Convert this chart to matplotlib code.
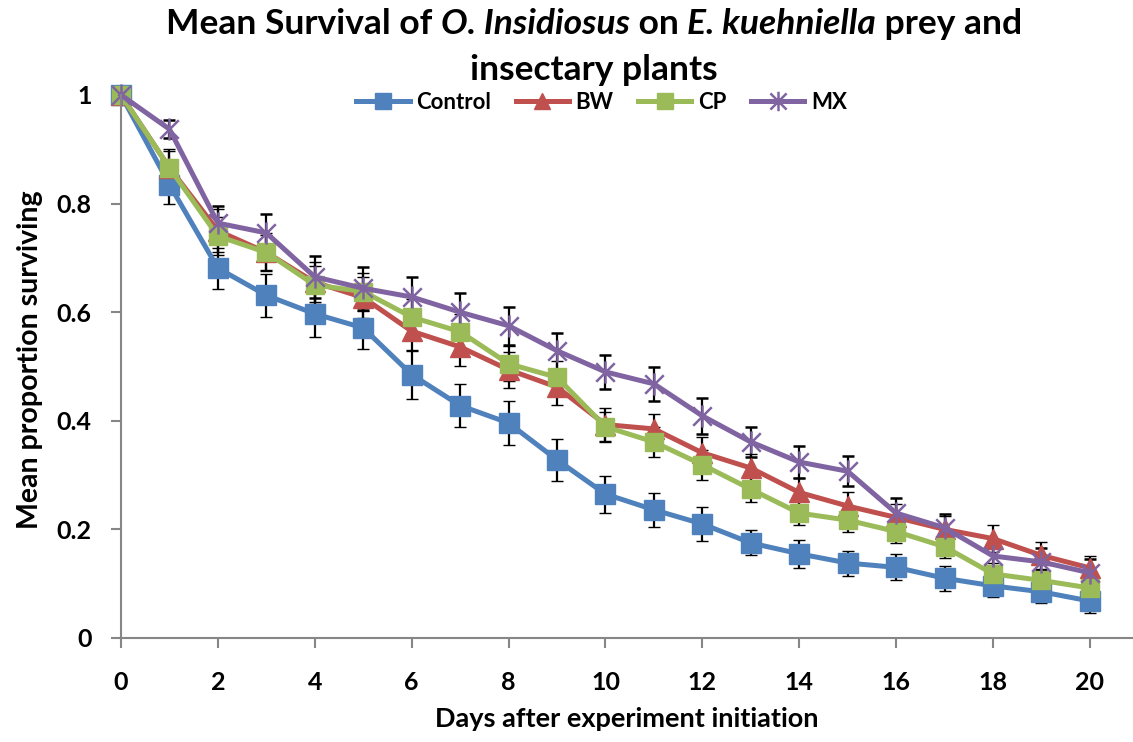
import matplotlib
matplotlib.use('Agg')
import matplotlib.pyplot as plt
from matplotlib.path import Path
from matplotlib.lines import Line2D

plt.rcParams['font.family'] = ['Lato', 'DejaVu Sans']
plt.rcParams['font.weight'] = 'bold'

days = list(range(21))

control = [1, 0.835, 0.681, 0.631, 0.597, 0.571, 0.485, 0.428, 0.396, 0.328, 0.265,
           0.236, 0.21, 0.175, 0.155, 0.138, 0.13, 0.11, 0.096, 0.085, 0.068]
control_se = [0, 0.035, 0.038, 0.04, 0.042, 0.039, 0.044, 0.04, 0.04, 0.038, 0.034,
              0.031, 0.031, 0.023, 0.026, 0.023, 0.024, 0.023, 0.021, 0.021, 0.022]

bw = [1, 0.866, 0.75, 0.71, 0.655, 0.627, 0.565, 0.536, 0.494, 0.462, 0.393,
      0.385, 0.341, 0.313, 0.268, 0.243, 0.222, 0.2, 0.183, 0.152, 0.129]
bw_se = [0, 0.034, 0.04, 0.035, 0.037, 0.037, 0.035, 0.035, 0.033, 0.033, 0.03,
         0.027, 0.03, 0.025, 0.027, 0.025, 0.025, 0.025, 0.025, 0.025, 0.022]

cp = [1, 0.866, 0.74, 0.71, 0.65, 0.638, 0.591, 0.564, 0.505, 0.48, 0.389,
      0.361, 0.319, 0.274, 0.23, 0.217, 0.196, 0.168, 0.118, 0.106, 0.092]
cp_se = [0, 0.03, 0.035, 0.033, 0.035, 0.035, 0.034, 0.033, 0.032, 0.03, 0.028,
         0.028, 0.028, 0.024, 0.022, 0.022, 0.022, 0.021, 0.02, 0.02, 0.018]

mx = [1, 0.937, 0.764, 0.746, 0.665, 0.644, 0.628, 0.6, 0.575, 0.529, 0.49,
      0.468, 0.409, 0.361, 0.324, 0.307, 0.23, 0.203, 0.151, 0.14, 0.12]
mx_se = [0, 0.017, 0.032, 0.035, 0.038, 0.04, 0.037, 0.035, 0.035, 0.033, 0.031,
         0.031, 0.033, 0.028, 0.03, 0.028, 0.028, 0.025, 0.025, 0.025, 0.025]

series_names = ['Control', 'BW', 'CP', 'MX']
series_values = [control, bw, cp, mx]
series_errors = [control_se, bw_se, cp_se, mx_se]
series_colors = ['#4F81BD', '#C0504D', '#9BBB59', '#8064A2']

# excel-style star: an X with a vertical stroke through it
star = Path([(-1, -1), (1, 1), (-1, 1), (1, -1), (0, -1.2), (0, 1.2)],
            [Path.MOVETO, Path.LINETO, Path.MOVETO, Path.LINETO, Path.MOVETO, Path.LINETO])
series_markers = ['s', '^', 's', star]
marker_sizes = [14, 14, 13, 16]

figure = plt.figure(figsize=(11.33, 7.42), dpi=100)
axes = figure.add_axes([0.1068, 0.1402, 0.8932, 0.7318])

handles = []
for name, vals, errs, color, marker, msize in zip(series_names, series_values, series_errors,
                                                   series_colors, series_markers, marker_sizes):
    mew = 1.8 if marker is star else 1.0
    axes.errorbar(days, vals, yerr=errs, color=color, lw=3.6, marker=marker, markersize=msize,
                  markeredgecolor=color, markeredgewidth=mew, ecolor='black', elinewidth=1.6,
                  capsize=4.5, capthick=1.6, clip_on=False)
    handles.append(Line2D([], [], color=color, lw=3.6, marker=marker, markersize=msize - 2,
                          markeredgecolor=color, markeredgewidth=mew))

axes.set_xlim(0, 20.89)
axes.set_ylim(0, 1)
axes.set_xticks(range(0, 21, 2))
axes.set_yticks([0, 0.2, 0.4, 0.6, 0.8, 1])
axes.set_yticklabels(['0', '0.2', '0.4', '0.6', '0.8', '1'])
for side in ['top', 'right']:
    axes.spines[side].set_visible(False)
for side in ['left', 'bottom']:
    axes.spines[side].set_color('#868686')
    axes.spines[side].set_linewidth(1.5)
axes.tick_params(axis='both', colors='#868686', length=7, width=1.5, labelsize=18,
                 labelcolor='black')
axes.tick_params(axis='x', pad=17)
axes.tick_params(axis='y', pad=14)

axes.set_xlabel('Days after experiment initiation', fontsize=19.5, fontweight='bold', labelpad=9)
axes.set_ylabel('Mean proportion surviving', fontsize=20.5, fontweight='bold')
axes.yaxis.set_label_coords(-0.077, 0.512)

figure.legend(handles, series_names, loc='center', bbox_to_anchor=(0.531, 0.8625), ncol=4,
              frameon=False, fontsize=16, handlelength=2.4, handletextpad=0.3, columnspacing=1.1)

# title with the species names in italics, centred line by line
title_lines = [
    [('Mean Survival of ', 'normal'), ('O. Insidiosus', 'italic'), (' on ', 'normal'),
     ('E. kuehniella', 'italic'), (' prey and', 'normal')],
    [('insectary plants', 'normal')],
]
title_y = [0.968, 0.906]
renderer = figure.canvas.get_renderer()
for pieces, ypos in zip(title_lines, title_y):
    texts = [figure.text(0, ypos, s, fontsize=25.5, fontweight='bold', style=st, va='center')
             for s, st in pieces]
    widths = [t.get_window_extent(renderer).width for t in texts]
    x = 594 - sum(widths) / 2
    for t, w in zip(texts, widths):
        t.set_x(x / 1133)
        x += w

figure.savefig('out.png', dpi=100)
